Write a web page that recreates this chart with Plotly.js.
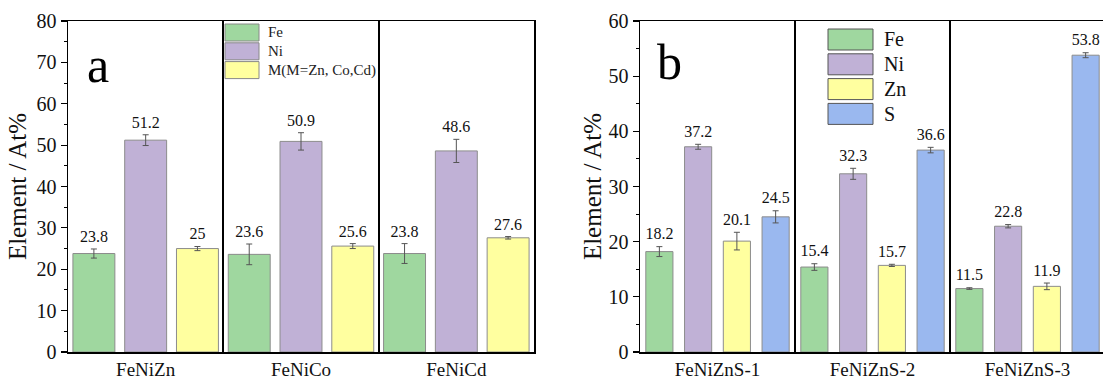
<!DOCTYPE html>
<html><head><meta charset="utf-8">
<script src="https://cdn.plot.ly/plotly-3.0.1.min.js"></script>
<style>html,body{margin:0;padding:0;overflow:hidden;background:#fff}</style>
</head><body><div id="chart" style="width:1112px;height:385px"></div>
<script>
// ---- data: panel a ----
const samplesA = ['FeNiZn', 'FeNiCo', 'FeNiCd'];
const namesA = ['Fe', 'Ni', 'M(M=Zn, Co,Cd)'];
const feA = [23.8, 23.6, 23.8];
const niA = [51.2, 50.9, 48.6];
const mA = [25, 25.6, 27.6];
const feAErr = [1.1, 2.5, 2.4];
const niAErr = [1.3, 2.1, 2.8];
const mAErr = [0.5, 0.6, 0.3];

// ---- data: panel b ----
const samplesB = ['FeNiZnS-1', 'FeNiZnS-2', 'FeNiZnS-3'];
const namesB = ['Fe', 'Ni', 'Zn', 'S'];
const feB = [18.2, 15.4, 11.5];
const niB = [37.2, 32.3, 22.8];
const znB = [20.1, 15.7, 11.9];
const sB = [24.5, 36.6, 53.8];
const feBErr = [0.9, 0.6, 0.15];
const niBErr = [0.45, 1.0, 0.3];
const znBErr = [1.6, 0.2, 0.6];
const sBErr = [1.1, 0.5, 0.45];

const colorsA = ['#9fd79f', '#c0b1d6', '#ffff9f'];
const colorsB = ['#9fd79f', '#c0b1d6', '#ffff9f', '#9ab8ef'];

const W = 1112, H = 385;
const SERIF = 'Liberation Serif';
const px = p => p / W;
const py = p => 1 - p / H;

const traces = [];
function addSeries(samples, vals, errs, name, color, xa, ya, grp, w) {
  traces.push({
    type: 'bar', x: samples, y: vals, name: name, xaxis: xa, yaxis: ya,
    offsetgroup: grp, width: w, showlegend: false,
    marker: {color: color, line: {color: '#8c8c8c', width: 1}},
    error_y: {type: 'data', array: errs, visible: true, color: '#555', thickness: 1, width: 3},
    hoverinfo: 'x+y'
  });
  traces.push({
    type: 'bar', x: samples, y: vals.map(() => 0.25), base: vals.map((v, i) => v + errs[i]),
    xaxis: xa, yaxis: ya, offsetgroup: grp, width: w, showlegend: false,
    marker: {color: 'rgba(0,0,0,0)', line: {width: 0}},
    text: vals.map(v => String(v)), textposition: 'outside', textangle: 0,
    constraintext: 'none', cliponaxis: false,
    textfont: {family: SERIF, size: 16, color: '#111'}, hoverinfo: 'skip'
  });
}
const seriesA = [feA, niA, mA], errA = [feAErr, niAErr, mAErr];
seriesA.forEach((s, i) => addSeries(samplesA, s, errA[i], namesA[i], colorsA[i], 'x', 'y', 'a' + i, 0.27));
const seriesB = [feB, niB, znB, sB], errB = [feBErr, niBErr, znBErr, sBErr];
seriesB.forEach((s, i) => addSeries(samplesB, s, errB[i], namesB[i], colorsB[i], 'x2', 'y2', 'b' + i, 0.175));

const shapes = [], annotations = [];
// legend a
namesA.forEach((n, i) => {
  const top = 24 + i * 18.8;
  shapes.push({type: 'rect', xref: 'paper', yref: 'paper', x0: px(225), x1: px(259), y0: py(top), y1: py(top + 17),
    fillcolor: colorsA[i], line: {color: '#888', width: 1}});
  annotations.push({xref: 'paper', yref: 'paper', x: px(266), y: py(top + 8.5), text: n, showarrow: false,
    xanchor: 'left', yanchor: 'middle', font: {family: SERIF, size: 15, color: '#222'}});
});
// legend b
namesB.forEach((n, i) => {
  const top = 29 + i * 24.8;
  shapes.push({type: 'rect', xref: 'paper', yref: 'paper', x0: px(828), x1: px(873), y0: py(top), y1: py(top + 21),
    fillcolor: colorsB[i], line: {color: '#555', width: 1}});
  annotations.push({xref: 'paper', yref: 'paper', x: px(882), y: py(top + 10.5), text: n, showarrow: false,
    xanchor: 'left', yanchor: 'middle', font: {family: SERIF, size: 20, color: '#111'}});
});
annotations.push({xref: 'paper', yref: 'paper', x: px(85), y: py(65), text: 'a', showarrow: false,
  xanchor: 'left', yanchor: 'middle', font: {family: SERIF, size: 50, color: '#000'}});
annotations.push({xref: 'paper', yref: 'paper', x: px(655), y: py(62), text: 'b', showarrow: false,
  xanchor: 'left', yanchor: 'middle', font: {family: SERIF, size: 50, color: '#000'}});

const xCommon = {
  type: 'category', range: [-0.5, 2.5], showline: true, linecolor: '#000', linewidth: 1.5, mirror: true,
  ticks: '', tickson: 'boundaries', showgrid: true, gridcolor: '#000', gridwidth: 2,
  tickfont: {family: SERIF, size: 19, color: '#111'}, automargin: false, zeroline: false
};
const yCommon = {
  showline: true, linecolor: '#000', linewidth: 1.5, mirror: true, ticks: 'outside', ticklen: 6,
  tickwidth: 1.2, tickcolor: '#000', dtick: 10, showgrid: false, zeroline: false,
  minor: {dtick: 5, ticks: 'outside', ticklen: 3, tickwidth: 1, tickcolor: '#000'},
  tickfont: {family: SERIF, size: 20, color: '#111'}, automargin: false
};
const layout = {
  width: W, height: H, margin: {l: 0, r: 0, t: 0, b: 0},
  font: {family: SERIF, color: '#111'},
  paper_bgcolor: '#fff', plot_bgcolor: '#fff',
  barmode: 'group', bargap: 0, bargroupgap: 0, showlegend: false,
  xaxis: Object.assign({}, xCommon, {domain: [px(68), px(534)], anchor: 'y'}),
  xaxis2: Object.assign({}, xCommon, {domain: [px(640), px(1105)], anchor: 'y2'}),
  yaxis: Object.assign({}, yCommon, {domain: [py(352), py(21)], range: [0, 80], anchor: 'x',
    title: {text: 'Element / At%', standoff: 3, font: {family: SERIF, size: 25, color: '#111'}}}),
  yaxis2: Object.assign({}, yCommon, {domain: [py(352), py(21)], range: [0, 60], anchor: 'x2',
    title: {text: 'Element / At%', standoff: 0, font: {family: SERIF, size: 25, color: '#111'}}}),
  shapes: shapes, annotations: annotations
};
Plotly.newPlot('chart', traces, layout, {displayModeBar: false, staticPlot: true});
</script></body></html>
